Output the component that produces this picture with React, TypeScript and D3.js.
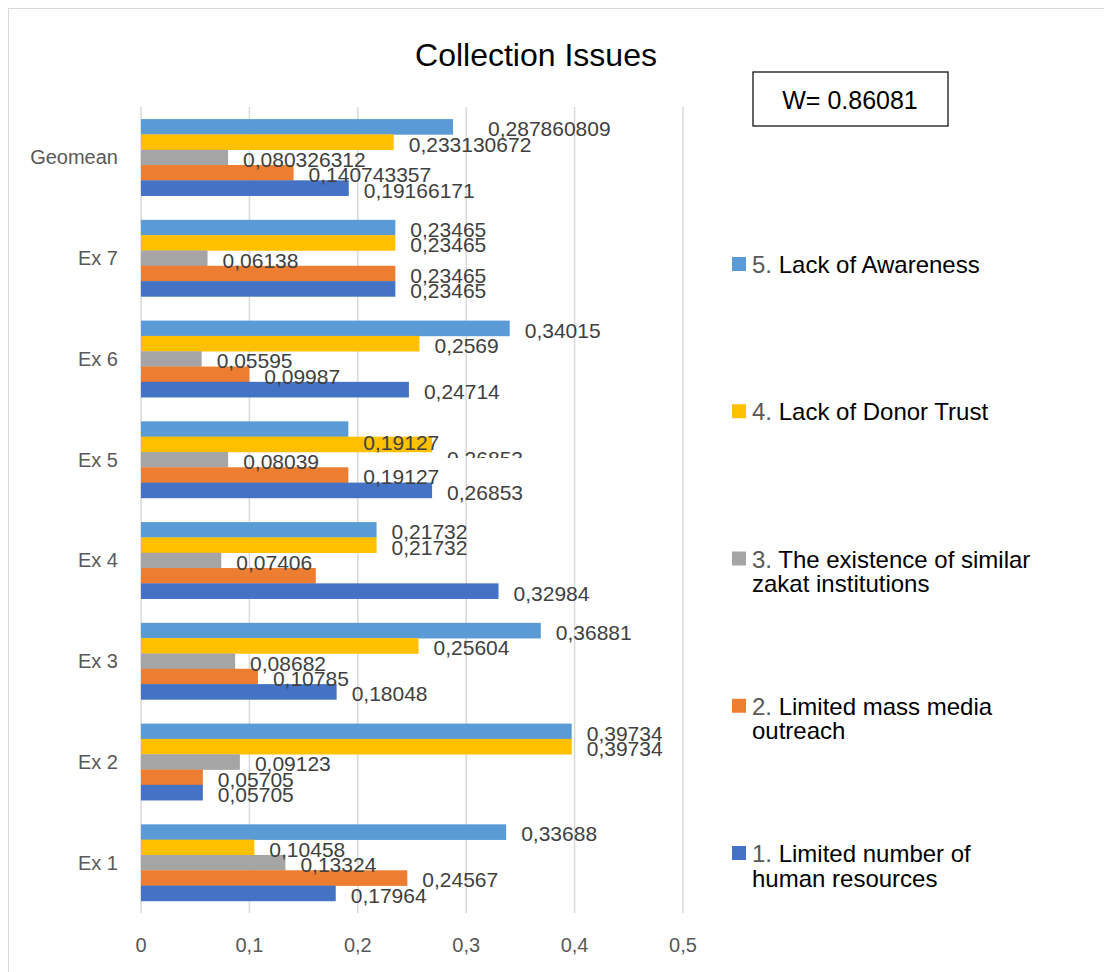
import React from "react";
import * as d3 from "d3";

const categories = ["Geomean", "Ex 7", "Ex 6", "Ex 5", "Ex 4", "Ex 3", "Ex 2", "Ex 1"];
const seriesNames = [
  ["5.", "Lack of Awareness"],
  ["4.", "Lack of Donor Trust"],
  ["3.", "The existence of similar", "zakat institutions"],
  ["2.", "Limited mass media", "outreach"],
  ["1.", "Limited number of", "human resources"],
];
const awareness = [0.287860809, 0.23465, 0.34015, 0.19127, 0.21732, 0.36881, 0.39734, 0.33688];
const donorTrust = [0.233130672, 0.23465, 0.2569, 0.26853, 0.21732, 0.25604, 0.39734, 0.10458];
const similarInst = [0.080326312, 0.06138, 0.05595, 0.08039, 0.07406, 0.08682, 0.09123, 0.13324];
const massMedia = [0.140743357, 0.23465, 0.09987, 0.19127, 0.1613, 0.10785, 0.05705, 0.24567];
const humanRes = [0.19166171, 0.23465, 0.24714, 0.26853, 0.32984, 0.18048, 0.05705, 0.17964];
const seriesValues = [awareness, donorTrust, similarInst, massMedia, humanRes];
const colors = ["#5B9BD5", "#FFC000", "#A5A5A5", "#ED7D31", "#4472C4"];
const xTicks = [0, 0.1, 0.2, 0.3, 0.4, 0.5];
const title = "Collection Issues";
const wText = "W= 0.86081";

// label quirks seen in the reference
const hiddenLabels = [{ cat: "Ex 4", s: 3 }];
const labelNudges = [
  { cat: "Geomean", s: 0, dx: 20, dy: 0, clip: false },
  { cat: "Ex 5", s: 0, dx: 0, dy: 12, clip: false },
  { cat: "Ex 5", s: 1, dx: 0, dy: 12, clip: true },
];

const fmt = (v: number) => String(v).replace(".", ",");
const FONT = "'Liberation Sans', Arial, sans-serif";

export default function App() {
  const x = d3.scaleLinear().domain([0, 0.5]).range([141, 683]);
  const y = d3.scaleBand<string>().domain(categories).range([107, 913]).paddingInner(0.24).paddingOuter(0.12);
  const ys = d3.scaleBand<number>().domain(d3.range(5)).range([0, y.bandwidth()]);
  const bh = ys.bandwidth();

  const legendY = d3.scalePoint<number>().domain(d3.range(5)).range([264, 853]);

  return (
    <svg width={1104} height={964} style={{ display: "block" }}>
      <g transform="translate(-8,-8)">
        <rect x={8} y={8} width={1200} height={1100} fill="#fff" stroke="#d9d9d9" strokeWidth={2} />
        <text x={536} y={55} textAnchor="middle" dominantBaseline="central" fontFamily={FONT} fontSize={32} fill="#000">
          {title}
        </text>
        <rect x={753} y={72} width={195} height={54} fill="#fff" stroke="#000" strokeWidth={1.2} />
        <text x={850} y={100} textAnchor="middle" dominantBaseline="central" fontFamily={FONT} fontSize={25} fill="#000">
          {wText}
        </text>
        {xTicks.map((t) => (
          <g key={t}>
            <line x1={x(t)} x2={x(t)} y1={107} y2={913} stroke="#d9d9d9" strokeWidth={1.5} />
            <text x={x(t)} y={945} textAnchor="middle" dominantBaseline="central" fontFamily={FONT} fontSize={20} fill="#595959">
              {fmt(t)}
            </text>
          </g>
        ))}
        {categories.map((c) => (
          <text key={c} x={118} y={(y(c) as number) + y.bandwidth() / 2} textAnchor="end" dominantBaseline="central" fontFamily={FONT} fontSize={20} fill="#595959">
            {c}
          </text>
        ))}
        {categories.map((c, ci) =>
          seriesValues.map((vals, si) => (
            <rect key={c + si} x={x(0)} y={(y(c) as number) + (ys(si) as number)} width={x(vals[ci]) - x(0)} height={bh + 0.3} fill={colors[si]} />
          ))
        )}
        <defs>
          {labelNudges.filter((n) => n.clip).map((n, i) => {
            const top = (y(n.cat) as number) + (ys(n.s) as number);
            return (
              <clipPath id={"lc" + i} key={i}>
                <rect x={0} y={top} width={1112} height={bh + 6} />
              </clipPath>
            );
          })}
        </defs>
        {categories.map((c, ci) =>
          seriesValues.map((vals, si) => {
            if (hiddenLabels.some((h) => h.cat === c && h.s === si)) return null;
            const nud = labelNudges.find((n) => n.cat === c && n.s === si);
            const clipIdx = labelNudges.filter((n) => n.clip).findIndex((n) => n.cat === c && n.s === si);
            const v = vals[ci];
            return (
              <text
                key={"l" + c + si}
                x={x(v) + 15 + (nud ? nud.dx : 0)}
                y={(y(c) as number) + (ys(si) as number) + bh / 2 + 2 + (nud ? nud.dy : 0)}
                dominantBaseline="central"
                fontFamily={FONT}
                fontSize={21}
                fill="#404040"
                clipPath={clipIdx >= 0 ? `url(#lc${clipIdx})` : undefined}
              >
                {fmt(v)}
              </text>
            );
          })
        )}
        {seriesNames.map((nm, i) => {
          const ly = legendY(i) as number;
          return (
            <g key={i}>
              <rect x={732} y={ly - 7} width={14} height={14} fill={colors[i]} />
              <text x={752} y={ly} dominantBaseline="central" fontFamily={FONT} fontSize={24} fill="#000">
                <tspan fill="#595959">{nm[0]} </tspan>
                <tspan>{nm[1]}</tspan>
              </text>
              {nm[2] && (
                <text x={752} y={ly + 25} dominantBaseline="central" fontFamily={FONT} fontSize={24} fill="#000">
                  {nm[2]}
                </text>
              )}
            </g>
          );
        })}
      </g>
    </svg>
  );
}
